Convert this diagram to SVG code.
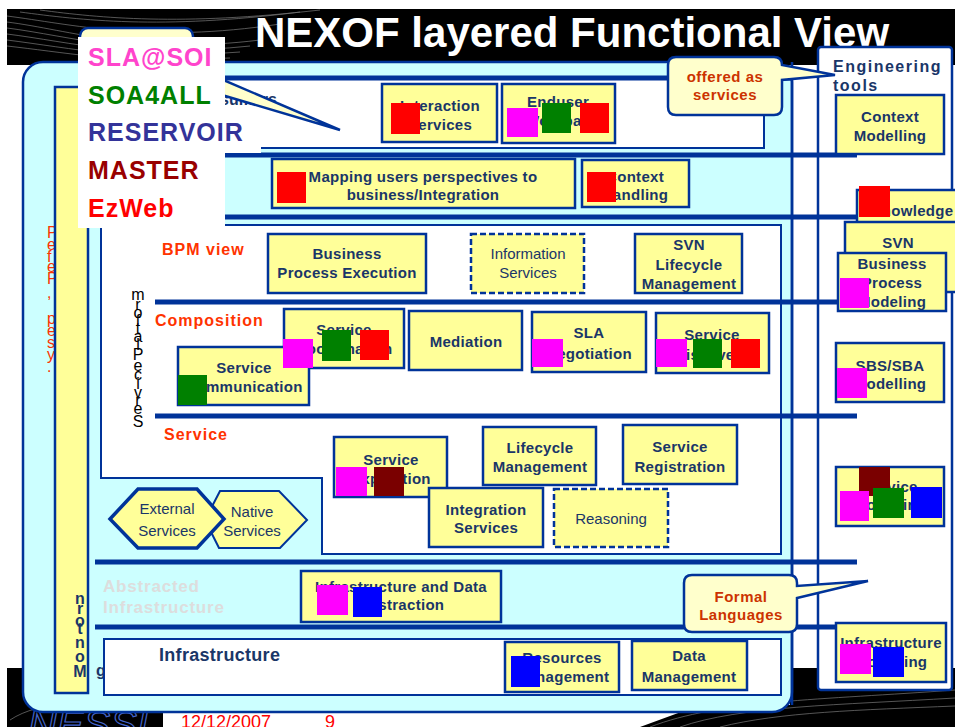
<svg xmlns="http://www.w3.org/2000/svg" width="955" height="727" viewBox="0 0 955 727">
<style>
.box{fill:#FFFF99;stroke:#003399;stroke-width:2.5}
.dbox{fill:#FFFF99;stroke:#003399;stroke-width:2.5;stroke-dasharray:6 3}
.pan{fill:#FFFFFF;stroke:#003399;stroke-width:2}
.sep{stroke:#003399;stroke-width:5;fill:none}
.t{font-family:"Liberation Sans",Arial,sans-serif;font-weight:bold;font-size:15px;fill:#1A3668;text-anchor:middle;letter-spacing:0.3px}
.tn{font-family:"Liberation Sans",Arial,sans-serif;font-size:15px;fill:#1A3668;text-anchor:middle}
.lbl{font-family:"Liberation Sans",Arial,sans-serif;font-weight:bold;font-size:16px;fill:#FF3300;letter-spacing:1px}
.co{font-family:"Liberation Sans",Arial,sans-serif;font-weight:bold;font-size:15px;fill:#CC3300;text-anchor:middle;letter-spacing:0.5px}
.call{fill:#FFFFCC;stroke:#003399;stroke-width:2.5}
.lg{font-family:"Liberation Sans",Arial,sans-serif;font-weight:bold;font-size:25px;letter-spacing:1px}
.vs{font-family:"Liberation Sans",Arial,sans-serif;font-size:16px;fill:#000;text-anchor:middle}
.mg{fill:#FF00FF}.gr{fill:#008000}.rd{fill:#FF0000}.dr{fill:#7A0000}.bl{fill:#0000FF}
.wave{stroke:#9a9a9a;stroke-width:0.7;fill:none;opacity:0.8}
</style>

<!-- background bands -->
<rect x="0" y="0" width="955" height="727" fill="#FFFFFF"/>
<rect x="7" y="9" width="948" height="56" fill="#000"/>
<g class="wave">
<path d="M7,22 C70,30 140,55 260,40"/>
<path d="M7,28 C70,36 140,58 250,46"/>
<path d="M7,34 C70,42 140,60 240,52"/>
<path d="M7,40 C70,48 140,62 230,58"/>
<path d="M7,46 C60,52 120,62 200,64"/>
<path d="M20,12 C80,20 160,30 300,12"/>
<path d="M40,10 C100,18 180,26 320,10"/>
<path d="M7,16 C70,24 150,44 280,24"/>
</g>
<rect x="7" y="668" width="156" height="59" fill="#000"/>
<path d="M790,668 H955 V727 H640 L700,705 H790 Z" fill="#000"/>
<g class="wave">
<path d="M650,727 C720,700 820,700 955,690"/>
<path d="M680,727 C740,706 840,705 955,698"/>
<path d="M720,727 C780,712 860,710 955,706"/>
<path d="M10,720 C40,700 90,700 160,712"/>
</g>
<text x="28" y="738" font-family="Liberation Sans,Arial,sans-serif" font-style="italic" font-size="40" fill="none" stroke="#4466CC" stroke-width="1.2">NESSI</text>
<text x="181" y="728" font-family="Liberation Sans,Arial,sans-serif" font-size="18" fill="#FF0000">12/12/2007</text>
<text x="325" y="728" font-family="Liberation Sans,Arial,sans-serif" font-size="18" fill="#FF0000">9</text>

<!-- title -->
<text x="255" y="47" font-family="Liberation Sans,Arial,sans-serif" font-weight="bold" font-size="42" fill="#FFFFFF">NEXOF layered Functional View</text>

<!-- outer cyan frame -->
<rect id="frame" x="23" y="62" width="769" height="650" rx="20" fill="#CCFFFF" stroke="#003399" stroke-width="2.5"/>

<!-- engineering tools panel -->
<g id="tools-panel">
<rect x="818" y="47" width="134" height="643" rx="3" fill="#FFFFFF" stroke="#003399" stroke-width="2.5"/>
<text x="833" y="72" font-family="Liberation Sans,Arial,sans-serif" font-weight="bold" font-size="16" fill="#1A3668" letter-spacing="1.5">Engineering</text>
<text x="833" y="91" font-family="Liberation Sans,Arial,sans-serif" font-weight="bold" font-size="16" fill="#1A3668" letter-spacing="1.5">tools</text>
</g>

<!-- left vertical bar -->
<g id="left-bar">
<g font-family="Liberation Sans,Arial,sans-serif" font-size="16" fill="#FF3300">
<text x="47" y="238">P</text><text x="47" y="250">e</text><text x="47" y="262">f</text><text x="47" y="272">e</text><text x="47" y="284">P</text><text x="47" y="298">,</text>
<text x="47" y="324">p</text><text x="47" y="336">e</text><text x="47" y="348">s</text><text x="47" y="360">y</text><text x="47" y="372">.</text>
</g>
<rect x="55" y="87" width="33" height="606" fill="#FFFF99" stroke="#003399" stroke-width="2.5"/>
<g font-family="Liberation Sans,Arial,sans-serif" font-weight="bold" font-size="16" fill="#1A3668" text-anchor="middle">
<text x="80" y="604">n</text><text x="80" y="614">r</text><text x="80" y="626">o</text><text x="80" y="634">t</text><text x="80" y="648">n</text><text x="80" y="662">o</text><text x="80" y="677">M</text>
<text x="101" y="676">g</text>
</g>
</g>

<!-- panels -->
<g id="consumers-panel">
<rect class="pan" x="101" y="78" width="663" height="70"/>
<text x="277" y="105" font-family="Liberation Sans,Arial,sans-serif" font-weight="bold" font-size="16" fill="#1A3668" text-anchor="end">Consumers</text>
</g>
<g id="platform-panel">
<path class="pan" d="M101,225 H781 V554 H322 V478 H101 Z"/>
</g>
<g id="infra-panel">
<rect class="pan" x="104" y="639" width="677" height="56"/>
<text x="159" y="661" font-family="Liberation Sans,Arial,sans-serif" font-weight="bold" font-size="18" fill="#1A3668" letter-spacing="0.3">Infrastructure</text>
</g>

<!-- layer separator lines -->
<g id="connectors">
<line class="sep" x1="101" y1="78" x2="792" y2="78" stroke-width="4"/>
<line class="sep" x1="95" y1="155" x2="857" y2="155"/>
<line class="sep" x1="95" y1="217" x2="857" y2="217"/>
<line class="sep" x1="155" y1="302" x2="840" y2="302" stroke-width="4"/>
<line class="sep" x1="155" y1="416" x2="857" y2="416" stroke-width="4"/>
<line class="sep" x1="95" y1="562" x2="857" y2="562"/>
<line class="sep" x1="95" y1="627" x2="840" y2="627"/>
<line x1="792" y1="62" x2="792" y2="705" stroke="#003399" stroke-width="2.5"/>
</g>

<!-- labels -->
<text class="lbl" x="162" y="255">BPM view</text>
<text class="lbl" x="155" y="326" letter-spacing="1.2">Composition</text>
<text class="lbl" x="164" y="440">Service</text>
<g font-family="Liberation Sans,Arial,sans-serif" font-weight="bold" font-size="17" fill="#DDDDDD" letter-spacing="0.8">
<text x="103" y="592">Abstracted</text>
<text x="103" y="613">Infrastructure</text>
</g>
<g id="service-platform-label" class="vs">
<text x="138" y="300">m</text><text x="138" y="310">r</text><text x="138" y="318">o</text><text x="138" y="326">f</text><text x="138" y="334">t</text><text x="138" y="342">a</text><text x="138" y="350">l</text><text x="138" y="360">P</text><text x="138" y="371">e</text><text x="138" y="380">c</text><text x="138" y="389">i</text><text x="138" y="398">v</text><text x="138" y="406">r</text><text x="138" y="414">e</text><text x="138" y="427">S</text>
</g>

<!-- consumer row -->
<g id="interaction-services"><rect class="box" x="382" y="84" width="115" height="58"/><text class="t" x="440" y="111">Interaction</text><text class="t" x="440" y="130">Services</text></g>
<g id="enduser"><rect class="box" x="502" y="84" width="113" height="59"/><text class="t" x="558" y="107">Enduser</text><text class="t" x="558" y="126">Workpad</text></g>

<!-- mapping row -->
<g id="mapping"><rect class="box" x="272" y="159" width="303" height="49"/><text class="t" x="423" y="182">Mapping users perspectives to</text><text class="t" x="423" y="200">business/Integration</text></g>
<g id="context-handling"><rect class="box" x="582" y="160" width="107" height="47"/><text class="t" x="635" y="182">Context</text><text class="t" x="635" y="200">Handling</text></g>

<!-- BPM row -->
<g id="bpe"><rect class="box" x="268" y="234" width="158" height="59"/><text class="t" x="347" y="259">Business</text><text class="t" x="347" y="278">Process Execution</text></g>
<g id="info-services"><rect class="dbox" x="471" y="234" width="113" height="59"/><text class="tn" x="528" y="259">Information</text><text class="tn" x="528" y="278">Services</text></g>
<g id="svn-lcm"><rect class="box" x="635" y="234" width="107" height="59"/><text class="t" x="689" y="250">SVN</text><text class="t" x="689" y="270">Lifecycle</text><text class="t" x="689" y="289">Management</text></g>

<!-- composition row -->
<g id="service-coordination"><rect class="box" x="284" y="309" width="120" height="59"/><text class="t" x="344" y="335">Service</text><text class="t" x="344" y="354">Coordination</text></g>
<g id="service-communication"><rect class="box" x="178" y="347" width="131" height="58"/><text class="t" x="244" y="373">Service</text><text class="t" x="244" y="392">Communication</text></g>
<g id="mediation"><rect class="box" x="409" y="311" width="113" height="59"/><text class="t" x="466" y="347">Mediation</text></g>
<g id="sla-negotiation"><rect class="box" x="532" y="312" width="114" height="60"/><text class="t" x="589" y="338">SLA</text><text class="t" x="589" y="359">Negotiation</text></g>
<g id="service-discovery"><rect class="box" x="656" y="313" width="113" height="60"/><text class="t" x="712" y="340">Service</text><text class="t" x="712" y="360">Discovery</text></g>

<!-- service row -->
<g id="service-exposition"><rect class="box" x="334" y="437" width="113" height="60"/><text class="t" x="391" y="465">Service</text><text class="t" x="391" y="484">Exposition</text></g>
<g id="lifecycle-management"><rect class="box" x="483" y="427" width="113" height="58"/><text class="t" x="540" y="453">Lifecycle</text><text class="t" x="540" y="472">Management</text></g>
<g id="service-registration"><rect class="box" x="623" y="425" width="114" height="59"/><text class="t" x="680" y="452">Service</text><text class="t" x="680" y="472">Registration</text></g>
<g id="integration-services"><rect class="box" x="429" y="488" width="114" height="59"/><text class="t" x="486" y="515">Integration</text><text class="t" x="486" y="533">Services</text></g>
<g id="reasoning"><rect class="dbox" x="554" y="489" width="114" height="58"/><text class="tn" x="611" y="524">Reasoning</text></g>
<g id="native-services"><polygon points="205,520 220,491 279,491 307,520 280,548 219,548" fill="#FFFF99" stroke="#003399" stroke-width="2"/><text class="tn" x="252" y="517">Native</text><text class="tn" x="252" y="536">Services</text></g>
<g id="external-services"><polygon points="110,519 138,489 197,489 224,519 197,548 138,548" fill="#FFFF99" stroke="#003399" stroke-width="3.5"/><text class="tn" x="167" y="514">External</text><text class="tn" x="167" y="536">Services</text></g>

<!-- abstraction / infrastructure -->
<g id="infra-data-abstraction"><rect class="box" x="301" y="571" width="200" height="51"/><text class="t" x="401" y="592">Infrastructure and Data</text><text class="t" x="401" y="610">Abstraction</text></g>
<g id="resources-management"><rect class="box" x="505" y="642" width="114" height="50"/><text class="t" x="562" y="663">Resources</text><text class="t" x="562" y="682">Management</text></g>
<g id="data-management"><rect class="box" x="632" y="641" width="115" height="49"/><text class="t" x="689" y="661">Data</text><text class="t" x="689" y="682">Management</text></g>

<!-- engineering tools boxes -->
<g id="context-modelling"><rect class="box" x="836" y="95" width="108" height="59"/><text class="t" x="890" y="122">Context</text><text class="t" x="890" y="141">Modelling</text></g>
<g id="knowledge"><rect class="box" x="857" y="190" width="110" height="60"/><text class="t" x="912" y="216">Knowledge</text></g>
<g id="svn-tool"><rect class="box" x="845" y="222" width="115" height="70"/><text class="t" x="898" y="248">SVN</text></g>
<g id="bp-modeling"><rect class="box" x="838" y="253" width="108" height="58" stroke-width="3"/><text class="t" x="892" y="269">Business</text><text class="t" x="892" y="288">Process</text><text class="t" x="892" y="307">Modeling</text></g>
<g id="sbs-modelling"><rect class="box" x="836" y="343" width="108" height="59"/><text class="t" x="890" y="371">SBS/SBA</text><text class="t" x="890" y="389">Modelling</text></g>
<g id="service-modelling"><rect class="box" x="836" y="467" width="108" height="59"/><text class="t" x="890" y="492">Service</text><text class="t" x="890" y="510">Modelling</text></g>
<g id="infra-modelling"><rect class="box" x="836" y="623" width="110" height="59"/><text class="t" x="891" y="648">Infrastructure</text><text class="t" x="891" y="667">Modelling</text></g>

<!-- callouts -->
<g id="offered-callout">
<path class="call" d="M676,57 H774 Q782,57 782,65 L835,75 L782,80 V107 Q782,115 774,115 H676 Q668,115 668,107 V65 Q668,57 676,57 Z"/>
<text class="co" x="725" y="82">offered as</text>
<text class="co" x="725" y="100">services</text>
</g>
<g id="formal-callout">
<path class="call" d="M692,575 H789 Q797,575 797,583 V586 L868,581 L797,598 V624 Q797,632 789,632 H692 Q684,632 684,624 V583 Q684,575 692,575 Z"/>
<text class="co" x="741" y="602">Formal</text>
<text class="co" x="741" y="620">Languages</text>
</g>
<g id="consumers-callout">
<rect class="call" x="80" y="28" width="113" height="50" rx="8"/>
<polygon points="200,70 205,90 340,130" fill="#FFFFCC" stroke="#003399" stroke-width="2.5"/>
</g>

<!-- project markers -->
<g id="markers">
<rect class="rd" x="391" y="103" width="29" height="31"/>
<rect class="mg" x="507" y="108" width="31" height="29"/>
<rect class="gr" x="542" y="103" width="29" height="30"/>
<rect class="rd" x="580" y="103" width="29" height="30"/>
<rect class="rd" x="277" y="172" width="29" height="31"/>
<rect class="rd" x="587" y="172" width="29" height="30"/>
<rect class="rd" x="859" y="186" width="31" height="31"/>
<rect class="mg" x="840" y="278" width="29" height="30"/>
<rect class="mg" x="283" y="339" width="30" height="29"/>
<rect class="gr" x="322" y="330" width="29" height="31"/>
<rect class="rd" x="360" y="330" width="29" height="30"/>
<rect class="gr" x="178" y="375" width="29" height="30"/>
<rect class="mg" x="532" y="339" width="31" height="28"/>
<rect class="mg" x="656" y="339" width="31" height="28"/>
<rect class="gr" x="693" y="339" width="29" height="29"/>
<rect class="rd" x="731" y="339" width="29" height="29"/>
<rect class="mg" x="837" y="368" width="30" height="30"/>
<rect class="mg" x="336" y="467" width="31" height="29"/>
<rect class="dr" x="374" y="467" width="30" height="29"/>
<rect class="dr" x="859" y="467" width="31" height="29"/>
<rect class="mg" x="840" y="491" width="29" height="30"/>
<rect class="gr" x="873" y="488" width="31" height="30"/>
<rect class="bl" x="911" y="487" width="31" height="31"/>
<rect class="mg" x="317" y="585" width="31" height="30"/>
<rect class="bl" x="353" y="587" width="29" height="30"/>
<rect class="bl" x="511" y="656" width="29" height="31"/>
<rect class="mg" x="840" y="644" width="31" height="30"/>
<rect class="bl" x="873" y="647" width="31" height="30"/>
</g>

<!-- legend -->
<g id="legend">
<rect x="78" y="37" width="147" height="191" fill="#FFFFFF"/>
<rect x="225" y="115" width="36" height="38" fill="#FFFFFF"/>
<text class="lg" x="88" y="66" fill="#FF44CC">SLA@SOI</text>
<text class="lg" x="88" y="104" fill="#008000">SOA4ALL</text>
<text class="lg" x="88" y="141" fill="#333399">RESERVOIR</text>
<text class="lg" x="88" y="179" fill="#990000">MASTER</text>
<text class="lg" x="88" y="217" fill="#FF0000">EzWeb</text>
</g>
</svg>
